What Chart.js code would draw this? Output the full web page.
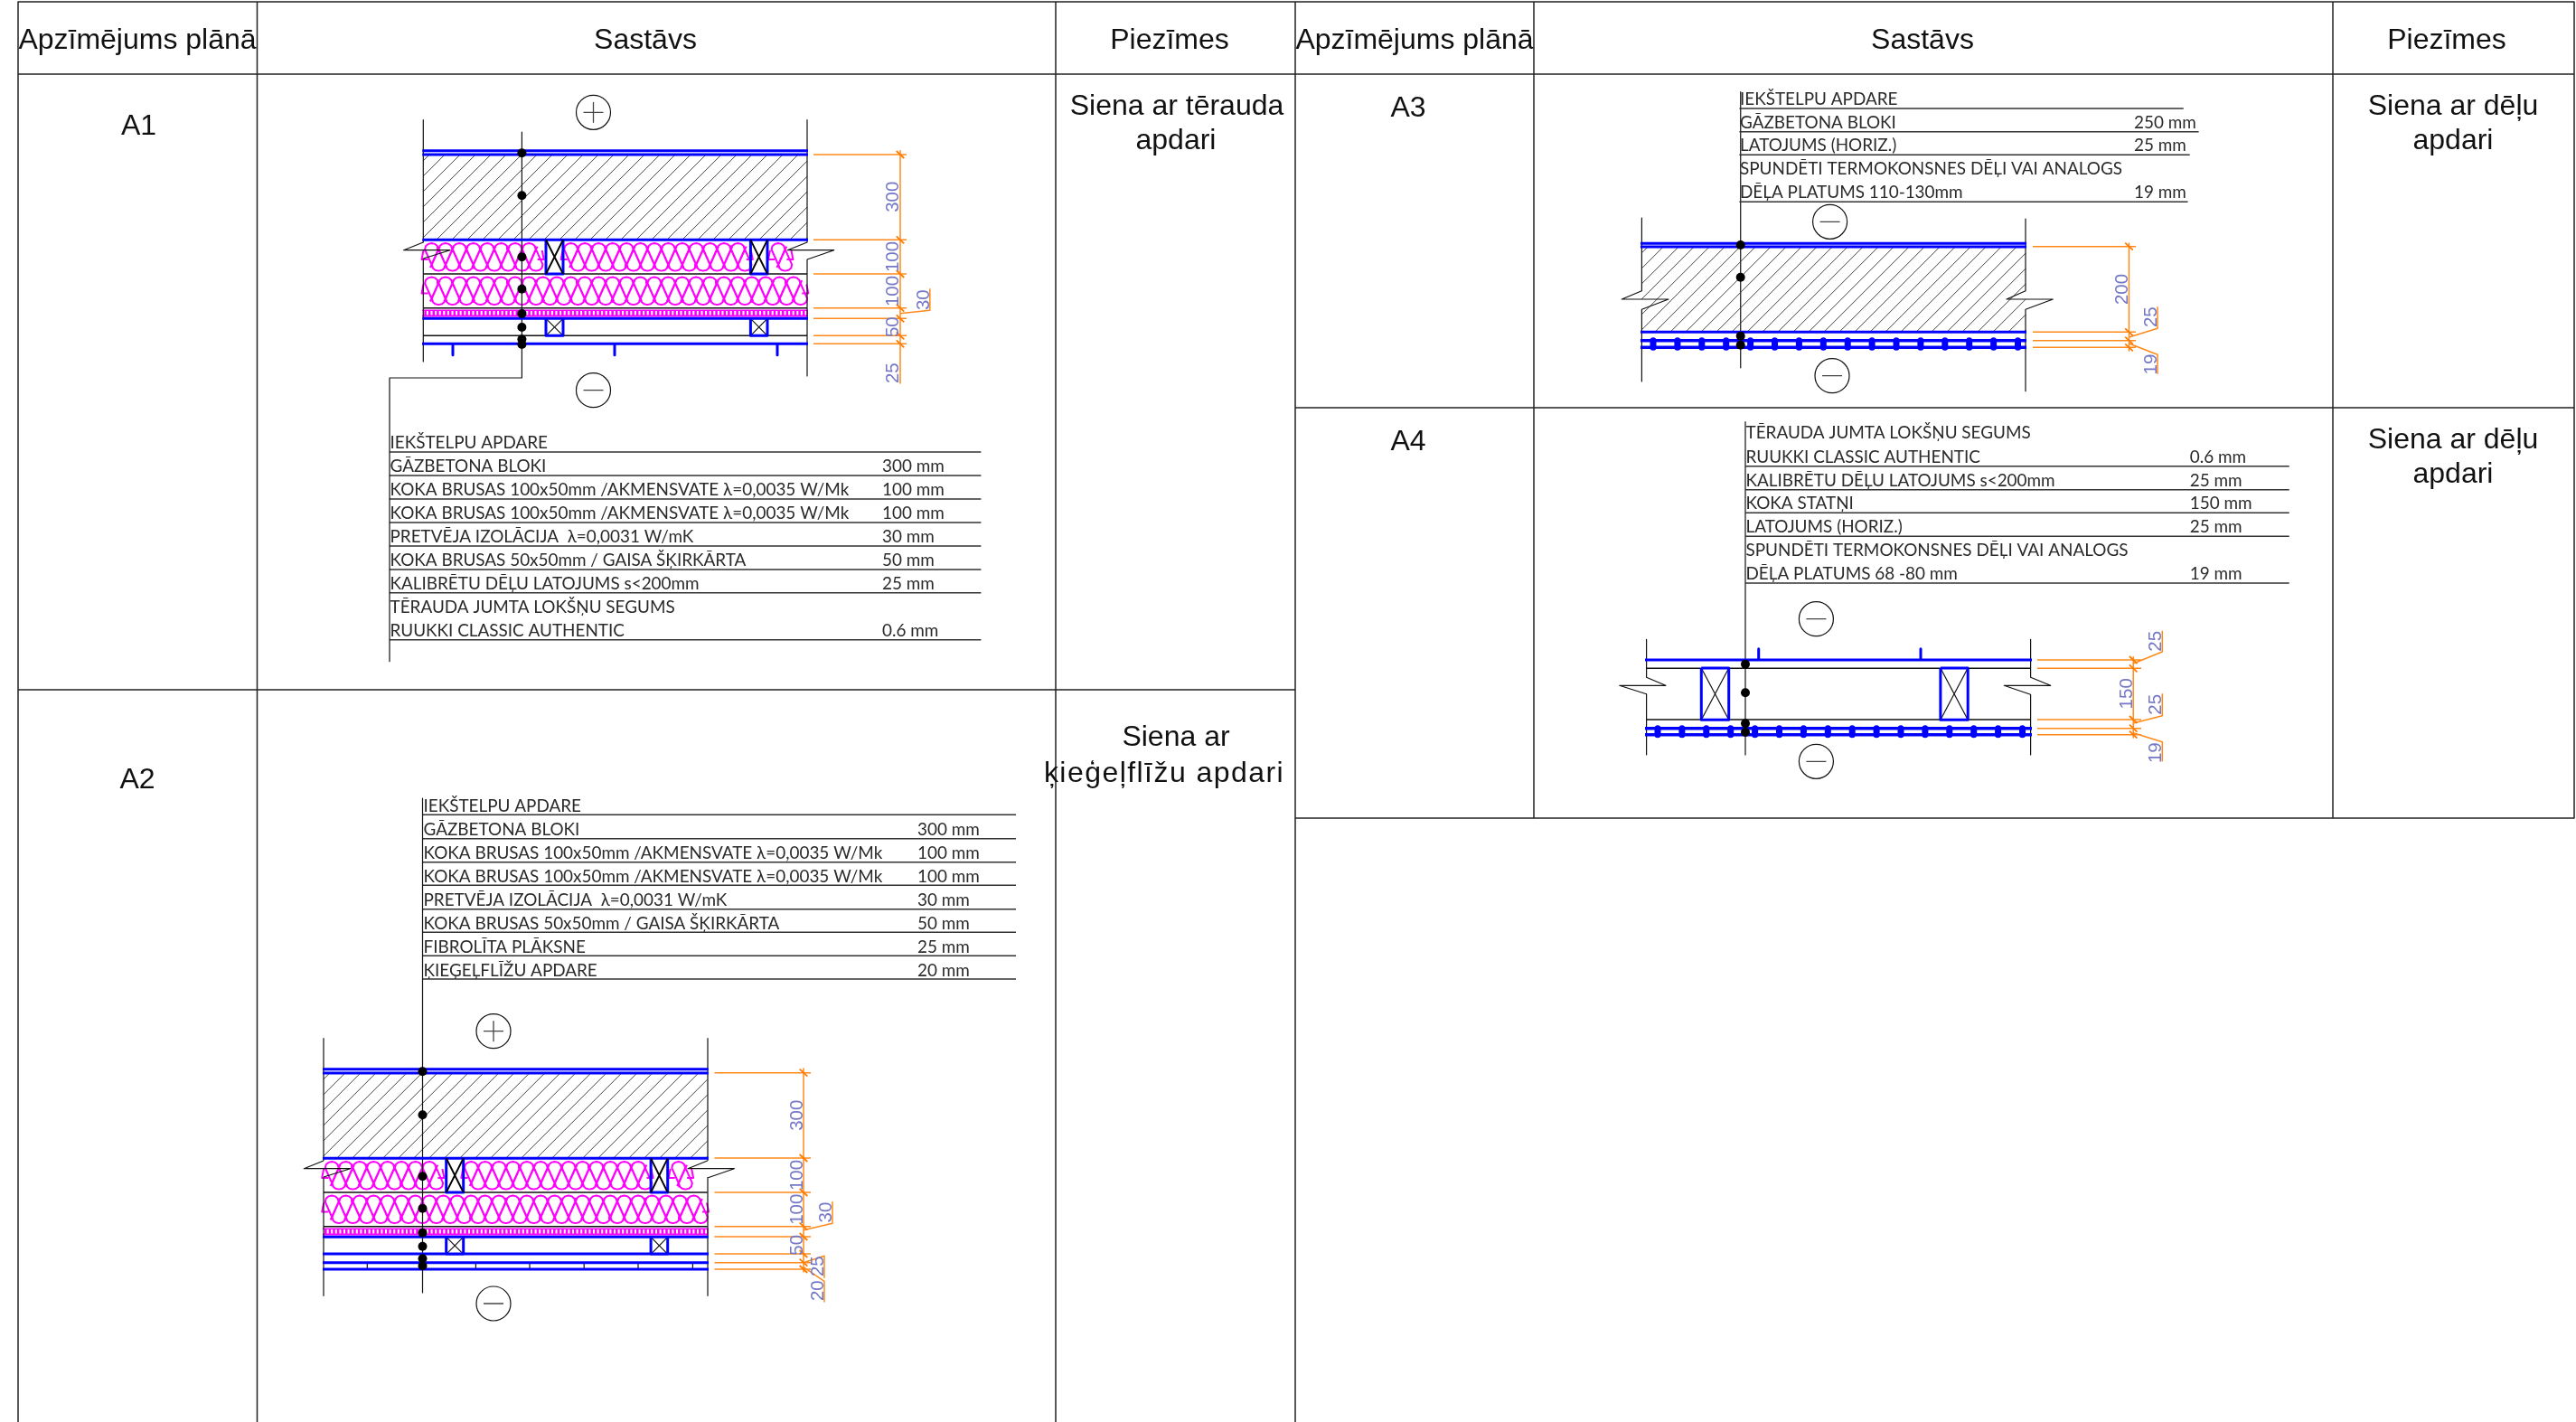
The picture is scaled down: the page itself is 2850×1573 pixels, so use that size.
<!DOCTYPE html>
<html><head><meta charset="utf-8">
<style>html,body{margin:0;padding:0;background:#fff}canvas{display:block}</style>
<script src="https://cdn.jsdelivr.net/npm/chart.js@4"></script>
</head><body><canvas id="c" width="2850" height="1573"></canvas>
<script>
// ---------- content ----------
const headers = ["Apzīmējums plānā", "Sastāvs", "Piezīmes"];
const rowCodes = ["A1", "A2", "A3", "A4"];
const notesA1 = ["Siena ar tērauda", "apdari"];
const notesA2 = ["Siena ar", "ķieģeļflīžu apdari"];
const notesA3 = ["Siena ar dēļu", "apdari"];
const notesA4 = ["Siena ar dēļu", "apdari"];

const layersA1 = ["IEKŠTELPU APDARE","GĀZBETONA BLOKI","KOKA BRUSAS 100x50mm /AKMENSVATE λ=0,0035 W/Mk","KOKA BRUSAS 100x50mm /AKMENSVATE λ=0,0035 W/Mk","PRETVĒJA IZOLĀCIJA  λ=0,0031 W/mK","KOKA BRUSAS 50x50mm / GAISA ŠĶIRKĀRTA","KALIBRĒTU DĒĻU LATOJUMS s<200mm","TĒRAUDA JUMTA LOKŠŅU SEGUMS","RUUKKI CLASSIC AUTHENTIC"];
const thickA1 = ["","300 mm","100 mm","100 mm","30 mm","50 mm","25 mm","","0.6 mm"];
const layersA2 = ["IEKŠTELPU APDARE","GĀZBETONA BLOKI","KOKA BRUSAS 100x50mm /AKMENSVATE λ=0,0035 W/Mk","KOKA BRUSAS 100x50mm /AKMENSVATE λ=0,0035 W/Mk","PRETVĒJA IZOLĀCIJA  λ=0,0031 W/mK","KOKA BRUSAS 50x50mm / GAISA ŠĶIRKĀRTA","FIBROLĪTA PLĀKSNE","ĶIEĢEĻFLĪŽU APDARE"];
const thickA2 = ["","300 mm","100 mm","100 mm","30 mm","50 mm","25 mm","20 mm"];
const layersA3 = ["IEKŠTELPU APDARE","GĀZBETONA BLOKI","LATOJUMS (HORIZ.)","SPUNDĒTI TERMOKONSNES DĒĻI VAI ANALOGS","DĒĻA PLATUMS 110-130mm"];
const thickA3 = ["","250 mm","25 mm","","19 mm"];
const layersA4 = ["TĒRAUDA JUMTA LOKŠŅU SEGUMS","RUUKKI CLASSIC AUTHENTIC","KALIBRĒTU DĒĻU LATOJUMS s<200mm","KOKA STATŅI","LATOJUMS (HORIZ.)","SPUNDĒTI TERMOKONSNES DĒĻI VAI ANALOGS","DĒĻA PLATUMS 68 -80 mm"];
const thickA4 = ["0.6 mm","25 mm","150 mm","25 mm","","19 mm"];
const dimsA1 = ["300","100","100","30","50","25"];
const dimsA2 = ["300","100","100","30","50","25","20"];
const dimsA3 = ["200","25","19"];
const dimsA4 = ["25","150","25","19"];

// ---------- layout (in axis units) ----------
const baseA1 = [496.3,522,548,574,600,626,652,678.3,704.3];
const ruleA1 = [500,526,552,578,604,630,655.7,707.7];
const baseA2 = [898,924,950,976,1002,1028,1054,1080];
const ruleA2 = [901.3,927.7,953.7,979.3,1005.7,1031.3,1057.3,1083];
const baseA3 = [116,142,167.3,193.3,219];
const ruleA3 = [[120,2415.7],[145.7,2432.6],[171.3,2422.7],[223.3,2420.5]];
const baseA4 = [485.3,511.7,538,563.3,589.3,615.3,641.3];
const ruleA4 = [515.7,541.7,567.3,593.3,645];
const thickBaseA4 = [511.7,538,563.3,589.3,0,641.3];

const G = {};
const seg = (name, ...pts) => { (G[name] = G[name] || []).push(...pts.map(p => ({x:p[0],y:p[1]})), {x:NaN,y:NaN}); };
const hline = (name,x0,x1,y) => seg(name,[x0,y],[x1,y]);
const vline = (name,x,y0,y1) => seg(name,[x,y0],[x,y1]);

// table grid
[[20,2,1573],[284.5,2,1573],[1168,2,1573],[1433,2,1573],[1697,2,905],[2581,2,905],[2848,2,905]].forEach(v=>vline('grid',v[0],v[1],v[2]));
[[20,2848,2],[20,2848,82],[20,1433,763],[1433,2848,451],[1433,2848,905]].forEach(h=>hline('grid',h[0],h[1],h[2]));

// 45° concrete hatching
function hatch(x0,y0,x1,y1,pitch){
  const h=y1-y0;
  for(let c=x0-h+pitch*0.4;c<x1;c+=pitch){
    let ax=c, ay=y1, bx=c+h, by=y0;
    if(ax<x0){ay=y1-(x0-ax);ax=x0;}
    if(bx>x1){by=y0+(bx-x1);bx=x1;}
    if(ay>by) seg('hatch',[ax,ay],[bx,by]);
  }
}
// insulation lobes: interleaved upper and lower teardrops
const lobeUp=[[-1.5,27],[7.4,7],[6.5,3.2],[3.8,0.9],[0,0],[-3.8,0.9],[-6.5,3.2],[-7.4,7],[1.5,27]];
const lobeDown=[[6.25,3.6],[15.15,23.6],[14.25,27.4],[11.55,29.7],[7.75,30.6],[3.95,29.7],[1.25,27.4],[0.35,23.6],[9.25,3.6]];
function coil(x0,y0,n,pitch){
  for(let k=0;k<n;k++){
    seg('coil',...lobeUp.map(m=>[x0+k*pitch+m[0],y0+m[1]]));
    seg('coil',...lobeDown.map(m=>[x0+k*pitch+m[0],y0+m[1]]));
  }
  seg('coil',[x0-9,y0+8],[x0-11,y0+18],[x0-4,y0+18]);
  seg('coil',[x0+n*pitch-6,y0+18],[x0+n*pitch+1,y0+18],[x0+n*pitch-1,y0+8]);
}
function stud(x0,x1,y0,y1,heavy){
  seg('blue',[x0,y0],[x1,y0],[x1,y1],[x0,y1],[x0,y0]);
  seg(heavy?'black2':'thin',[x0,y0],[x1,y1]);
  seg(heavy?'black2':'thin',[x1,y0],[x0,y1]);
}
// break mark
function brk(xw,yt,yb,xa,xb,y){ seg('thin',[xw,yt],[xa,y],[xb,y],[xw,yb]); }
function boards(x0,x1,start,n,pitch,y0,y1){
  hline('rail',x0,x1,y0); hline('rail',x0,x1,y1);
  for(let k=0;k<n;k++) seg('boards',[start+k*pitch,y0],[start+k*pitch,y1]);
}
function sign(cx,cy,plus){
  hline('signs',cx-11,cx+11,cy);
  if(plus) vline('signs',cx,cy-11,cy+11);
}
function ext(x0,x1,ys,xv){
  ys.forEach(y=>{hline('orange',x0,x1,y);seg('orange2',[xv-4.3,y-4],[xv+4.3,y+4]);});
}

const dots=[], circles=[];
const dimLabels=[];

// Shared upper wall of A1 and A2
function wall(dx,dy){
  const L=468.3+dx,R=893+dx,Y=v=>v+dy,X=v=>v+dx;
  hline('blue',L-1,R+1,Y(166.7)); hline('blue',L-1,R+1,Y(170.9));
  hatch(L,Y(171),R,Y(265),17);
  hline('blue',L-1,R+1,Y(265.3));
  hline('black',L,R,Y(303)); hline('black',L,R,Y(340.8));
  coil(X(477.5),Y(269),8,15.4); coil(X(631.6),Y(269),13,15.4); coil(X(861),Y(269),1,15.4);
  coil(X(477.5),Y(306.5),27,15.4);
  hline('wrap',L-1,R+1,Y(346.5)); hline('wrapDots',L-1,R+1,Y(346.2));
  hline('blue',L-1,R+1,Y(352.3));
  stud(X(604),X(623),Y(265.3),Y(303),true); stud(X(830.4),X(849),Y(265.3),Y(303),true);
  stud(X(604),X(623),Y(352.3),Y(371.3),false); stud(X(830.4),X(849),Y(352.3),Y(371.3),false);
  brk(L,Y(268),Y(286),L-21.7,L+29.7,Y(276.7));
  brk(R,Y(268),Y(287),R-21.7,R+29.7,Y(276.7));
}
// A1
wall(0,0);
vline('thin',468.3,132.7,268); vline('thin',468.3,286,400);
vline('thin',893,132.7,268); vline('thin',893,287,416);
vline('thin',577.4,146,418); hline('thin',431,577.4,418); vline('thin',431,418,731.7);
hline('black',468,893,371.3); hline('blue',467,894,380.3);
[501,680,860].forEach(x=>vline('blue',x,380.3,392.7));
[169.3,216.3,284.3,319.7,347,362,375.3,381].forEach(y=>dots.push({x:577.4,y}));
circles.push({x:656.5,y:124.3},{x:656.5,y:431.7}); sign(656.5,124.3,true); sign(656.5,431.7,false);
ext(900,1003,[171,265.3,303,340.7,352.3,371.3,380.3],996); vline('orange',996,166.7,424);
seg('orange',[996,346.7],[1028.8,343.3],[1028.8,319.3]);
[[986.5,217.7],[986.5,284],[986.5,322],[1020,331.7],[986.5,361.7],[986.5,412.7]].forEach((p,i)=>dimLabels.push([dimsA1[i],p[0],p[1]]));
ruleA1.forEach(y=>hline('rule',431,1085.4,y));

// A2
wall(-110.3,1016);
vline('thin',358,1148.7,1283.5); vline('thin',358,1302.5,1433.3);
vline('thin',783,1148.7,1283.5); vline('thin',783,1302.5,1433.3);
vline('thin',467.5,883,1430);
hline('blue',357,784,1387); hline('blue',357,784,1396.7); hline('blue',357,784,1404);
[406.3,526.4,586,646.2,706,766.4].forEach(x=>vline('thin',x,1396.7,1404));
[1185.3,1233.3,1301.3,1336.7,1363.7,1378.7,1392.3,1400.3].forEach(y=>dots.push({x:467.5,y}));
circles.push({x:546,y:1140.7},{x:546,y:1442}); sign(546,1140.7,true); sign(546,1442,false);
ext(790.5,897,[1186.7,1281,1319,1356.7,1368,1387,1396.7,1404],889); vline('orange',889,1182,1407);
seg('orange',[889,1360.7],[921,1353.3],[921,1329.3]);
seg('orange',[889,1396.7],[912,1389.3],[912,1413.3]);
seg('orange',[889,1401.7],[912,1417.3],[912,1440]);
[[880,1233.7],[880,1300],[880,1337.7],[912,1341],[880,1377.3],[903,1400.7],[903,1427.7]].forEach((p,i)=>dimLabels.push([dimsA2[i],p[0],p[1]]));
ruleA2.forEach(y=>hline('rule',468,1124,y));

// A3
vline('thin',1816.4,241,321.7); vline('thin',1816.4,342.3,422);
vline('thin',2241,242,321.7); vline('thin',2241,342.3,432.7);
vline('rule',1925.7,101.7,406.7);
hline('blue',1815,2242,269.3); hline('blue',1815,2242,273);
hatch(1816.4,273,2241,367,17);
hline('blue',1815,2242,367.3);
boards(1815,2242,1829,16,26.9,376.7,384.3);
brk(1816.4,321.7,342.3,1794.3,1846,331);
brk(2241,321.7,342.3,2220,2271.3,331);
[271,306.7,371.7,381.7].forEach(y=>dots.push({x:1925.7,y}));
circles.push({x:2024.6,y:245.3},{x:2027,y:415.7}); sign(2024.6,245.3,false); sign(2027,415.7,false);
ext(2249,2363,[272.7,367.3,376.7,384.3],2355.5); vline('orange',2355.5,269,388);
seg('orange',[2355.5,373],[2387,363.3],[2387,339.3]);
seg('orange',[2355.5,380],[2387,392.3],[2387,413.3]);
[[2346,320],[2378.4,350.7],[2378.4,403]].forEach((p,i)=>dimLabels.push([dimsA3[i],p[0],p[1]]));
ruleA3.forEach(r=>hline('rule',1924.4,r[1],r[0]));

// A4
vline('thin',1821.6,707.3,749.3); vline('thin',1821.6,767.7,835);
vline('thin',2246.6,707.3,749.3); vline('thin',2246.6,768.3,835);
vline('rule',1931,466.7,835);
hline('blue',1820,2248,730); seg('blue',[1945.7,717.7],[1945.7,730]); seg('blue',[2125,717.7],[2125,730]);
hline('black',1821.6,2246.6,739.3); hline('black',1821.6,2246.6,796);
boards(1820,2248,1834,16,26.9,805.7,812.7);
stud(1882.3,1912.7,739,796.3,false); stud(2146.9,2177.2,739,796.3,false);
seg('thin',[1821.6,749.3],[1842.9,758.3],[1791.7,758.3],[1821.6,767.7]);
seg('thin',[2246.6,749.3],[2268.7,758.3],[2217.2,758.3],[2246.6,768.3]);
[734.7,766.3,800.3,810].forEach(y=>dots.push({x:1931,y}));
circles.push({x:2009.4,y:684.7},{x:2009.4,y:842.3}); sign(2009.4,684.7,false); sign(2009.4,842.3,false);
ext(2254,2369,[730,739.3,796,805.7,812.7],2360.2); vline('orange',2360.2,726.7,816);
seg('orange',[2360.2,734],[2392.3,721],[2392.3,697.7]);
seg('orange',[2360.2,800],[2392.3,791.7],[2392.3,767.3]);
seg('orange',[2360.2,810.7],[2392.3,820.7],[2392.3,841.7]);
[[2383.6,709.3],[2351.5,767.3],[2383.6,779.3],[2383.6,832.7]].forEach((p,i)=>dimLabels.push([dimsA4[i],p[0],p[1]]));
ruleA4.forEach(y=>hline('rule',1930.7,2532.7,y));

// ---------- text placement ----------
const sansText=[];  // [text,x,y] centered
[[152,45.5],[714,45.5],[1294,45.5]].forEach((p,i)=>sansText.push([headers[i],p[0],p[1]]));
[[1565,45.5],[2127,45.5],[2707,45.5]].forEach((p,i)=>sansText.push([headers[i],p[0],p[1]]));
[[153.5,140.5],[152,863.5],[1558,120],[1558,489]].forEach((p,i)=>sansText.push([rowCodes[i],p[0],p[1]]));
sansText.push([notesA1[0],1302,118],[notesA1[1],1301,156],[notesA2[0],1301,816],[notesA2[1],1288,856,'1.45px'],[notesA3[0],2714,118],[notesA3[1],2714,156],[notesA4[0],2714,487],[notesA4[1],2714,525]);
const cadText=[];
layersA1.forEach((t,i)=>cadText.push([t,431.5,baseA1[i]]));
thickA1.forEach((t,i)=>t&&cadText.push([t,976,baseA1[i]]));
layersA2.forEach((t,i)=>cadText.push([t,468.5,baseA2[i]]));
thickA2.forEach((t,i)=>t&&cadText.push([t,1015,baseA2[i]]));
layersA3.forEach((t,i)=>cadText.push([t,1925,baseA3[i]]));
thickA3.forEach((t,i)=>t&&cadText.push([t,2361,baseA3[i]]));
layersA4.forEach((t,i)=>cadText.push([t,1931.5,baseA4[i]]));
thickA4.forEach((t,i)=>t&&cadText.push([t,2422.8,thickBaseA4[i]]));

// ---------- styles ----------
const styles=[
 ['hatch','#444',1],['coil','#ff00ff',2],['wrap','#ff00ff',8],['wrapDots','#ffffff',4.5,[2,2.6]],
 ['rule','#333',1.4],['grid','#222',1.5],['thin','#111',1.2],['black','#111',1.6],
 ['boards','#0000ff',7],['rail','#0000ff',3.6],['blue','#0000ff',3],['black2','#000',1.9],['signs','#444',1.3],
 ['orange','#ff8a1a',1.5],['orange2','#ff7b00',1.8]
];
const datasets=styles.filter(s=>G[s[0]]).map(s=>({label:s[0],data:G[s[0]],showLine:true,pointRadius:0,borderColor:s[1],borderWidth:s[2],borderDash:s[3]||[],spanGaps:false,tension:0,fill:false,borderCapStyle:'butt',borderJoinStyle:'round'}));
datasets.push({label:'circles',data:circles,showLine:false,pointRadius:19,pointBackgroundColor:'rgba(0,0,0,0)',pointBorderColor:'#111',pointBorderWidth:1.2});
datasets.push({label:'dots',data:dots,showLine:false,pointRadius:5,pointBackgroundColor:'#000',pointBorderColor:'#000',pointBorderWidth:0});
datasets.forEach((d,i)=>d.order=-i);

const textPlugin={id:'texts',afterDatasetsDraw(chart){
  const c=chart.ctx,X=chart.scales.x,Y=chart.scales.y;
  c.save();
  c.fillStyle='#111'; c.textAlign='center'; c.textBaseline='middle';
  c.font='32px "Liberation Sans"';
  sansText.forEach(t=>{c.letterSpacing=t[3]||'0px';c.fillText(t[0],X.getPixelForValue(t[1]),Y.getPixelForValue(t[2]));});
  c.letterSpacing='0px';
  c.textAlign='left'; c.textBaseline='alphabetic'; c.fillStyle='#2a2a2a';
  c.font='18.9px Lato';
  cadText.forEach(t=>c.fillText(t[0],X.getPixelForValue(t[1]),Y.getPixelForValue(t[2])));
  c.fillStyle='#7478c6'; c.textAlign='center'; c.textBaseline='middle';
  c.font='20.5px "Liberation Sans"';
  dimLabels.forEach(t=>{c.save();c.translate(X.getPixelForValue(t[1]),Y.getPixelForValue(t[2]));c.rotate(-Math.PI/2);c.fillText(t[0],0,2);c.restore();});
  c.restore();
}};

new Chart(document.getElementById('c'),{
  type:'scatter',
  data:{datasets},
  options:{responsive:false,devicePixelRatio:1,animation:false,events:[],
    layout:{padding:0,autoPadding:false},
    plugins:{legend:{display:false},tooltip:{enabled:false},title:{display:false}},
    scales:{x:{type:'linear',min:0,max:2850,display:false},y:{type:'linear',min:0,max:1573,reverse:true,display:false}}},
  plugins:[textPlugin]
});
</script></body></html>
